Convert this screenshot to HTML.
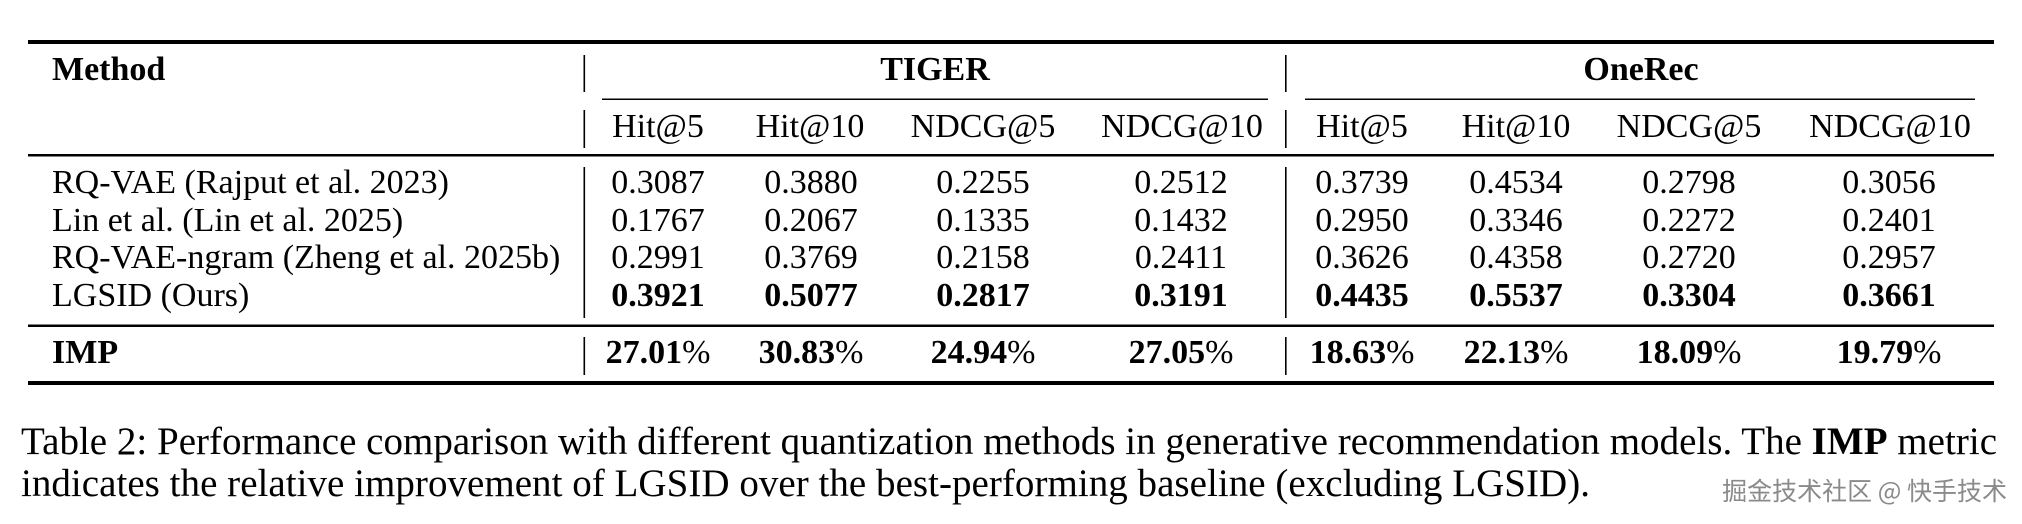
<!DOCTYPE html>
<html><head><meta charset="utf-8"><style>
html,body{margin:0;padding:0;background:#fff;}
svg{display:block;}
text{font-family:"Liberation Serif",serif;fill:#000;}
</style></head><body>
<svg width="2022" height="524" viewBox="0 0 2022 524" xmlns="http://www.w3.org/2000/svg">
<rect width="2022" height="524" fill="#fff"/>
<rect x="28" y="40" width="1966" height="4" fill="#000"/>
<rect x="602" y="98.5" width="666" height="1.5" fill="#000"/>
<rect x="1305" y="98.5" width="670" height="1.5" fill="#000"/>
<rect x="28" y="154" width="1966" height="2.5" fill="#000"/>
<rect x="28" y="324.5" width="1966" height="2.5" fill="#000"/>
<rect x="28" y="381" width="1966" height="4" fill="#000"/>
<g fill="#000">
<rect x="583.5" y="55" width="1.6" height="37"/><rect x="583.5" y="110" width="1.6" height="38"/><rect x="583.5" y="167" width="1.6" height="151"/><rect x="583.5" y="337" width="1.6" height="38"/>
<rect x="1285" y="55" width="1.6" height="37"/><rect x="1285" y="110" width="1.6" height="38"/><rect x="1285" y="167" width="1.6" height="151"/><rect x="1285" y="337" width="1.6" height="38"/>
</g>
<g font-size="34">
<text x="52" y="80" font-weight="bold">Method</text>
<text x="935" y="80" font-weight="bold" text-anchor="middle">TIGER</text>
<text x="1641" y="80" font-weight="bold" text-anchor="middle">OneRec</text>
<g text-anchor="middle">
<text x="658" y="137">Hit@5</text><text x="810" y="137">Hit@10</text><text x="983" y="137">NDCG@5</text><text x="1182" y="137">NDCG@10</text>
<text x="1362" y="137">Hit@5</text><text x="1516" y="137">Hit@10</text><text x="1689" y="137">NDCG@5</text><text x="1890" y="137">NDCG@10</text>
</g>
<text x="52" y="193">RQ-VAE (Rajput et al. 2023)</text>
<text x="52" y="231">Lin et al. (Lin et al. 2025)</text>
<text x="52" y="268">RQ-VAE-ngram (Zheng et al. 2025b)</text>
<text x="52" y="306">LGSID (Ours)</text>
<text x="52" y="363" font-weight="bold">IMP</text>
<g text-anchor="middle">
<text x="658" y="193">0.3087</text><text x="811" y="193">0.3880</text><text x="983" y="193">0.2255</text><text x="1181" y="193">0.2512</text>
<text x="1362" y="193">0.3739</text><text x="1516" y="193">0.4534</text><text x="1689" y="193">0.2798</text><text x="1889" y="193">0.3056</text>
<text x="658" y="231">0.1767</text><text x="811" y="231">0.2067</text><text x="983" y="231">0.1335</text><text x="1181" y="231">0.1432</text>
<text x="1362" y="231">0.2950</text><text x="1516" y="231">0.3346</text><text x="1689" y="231">0.2272</text><text x="1889" y="231">0.2401</text>
<text x="658" y="268">0.2991</text><text x="811" y="268">0.3769</text><text x="983" y="268">0.2158</text><text x="1181" y="268">0.2411</text>
<text x="1362" y="268">0.3626</text><text x="1516" y="268">0.4358</text><text x="1689" y="268">0.2720</text><text x="1889" y="268">0.2957</text>
<g font-weight="bold">
<text x="658" y="306">0.3921</text><text x="811" y="306">0.5077</text><text x="983" y="306">0.2817</text><text x="1181" y="306">0.3191</text>
<text x="1362" y="306">0.4435</text><text x="1516" y="306">0.5537</text><text x="1689" y="306">0.3304</text><text x="1889" y="306">0.3661</text>
<text x="658" y="363">27.01<tspan font-weight="normal">%</tspan></text><text x="811" y="363">30.83<tspan font-weight="normal">%</tspan></text><text x="983" y="363">24.94<tspan font-weight="normal">%</tspan></text><text x="1181" y="363">27.05<tspan font-weight="normal">%</tspan></text>
<text x="1362" y="363">18.63<tspan font-weight="normal">%</tspan></text><text x="1516" y="363">22.13<tspan font-weight="normal">%</tspan></text><text x="1689" y="363">18.09<tspan font-weight="normal">%</tspan></text><text x="1889" y="363">19.79<tspan font-weight="normal">%</tspan></text>
</g>
</g>
</g>
<g font-size="39">
<text x="21" y="454" textLength="1976" lengthAdjust="spacing">Table 2: Performance comparison with different quantization methods in generative recommendation models. The <tspan font-weight="bold">IMP</tspan> metric</text>
<text x="21" y="496" textLength="1569" lengthAdjust="spacing">indicates the relative improvement of LGSID over the best-performing baseline (excluding LGSID).</text>
</g>
<text x="2007" y="500" text-anchor="end" font-size="25" style="font-family:'Noto Sans CJK SC','Liberation Sans',sans-serif;fill:#8a8a8a;">掘金技术社区 @ 快手技术</text>
</svg>
</body></html>
